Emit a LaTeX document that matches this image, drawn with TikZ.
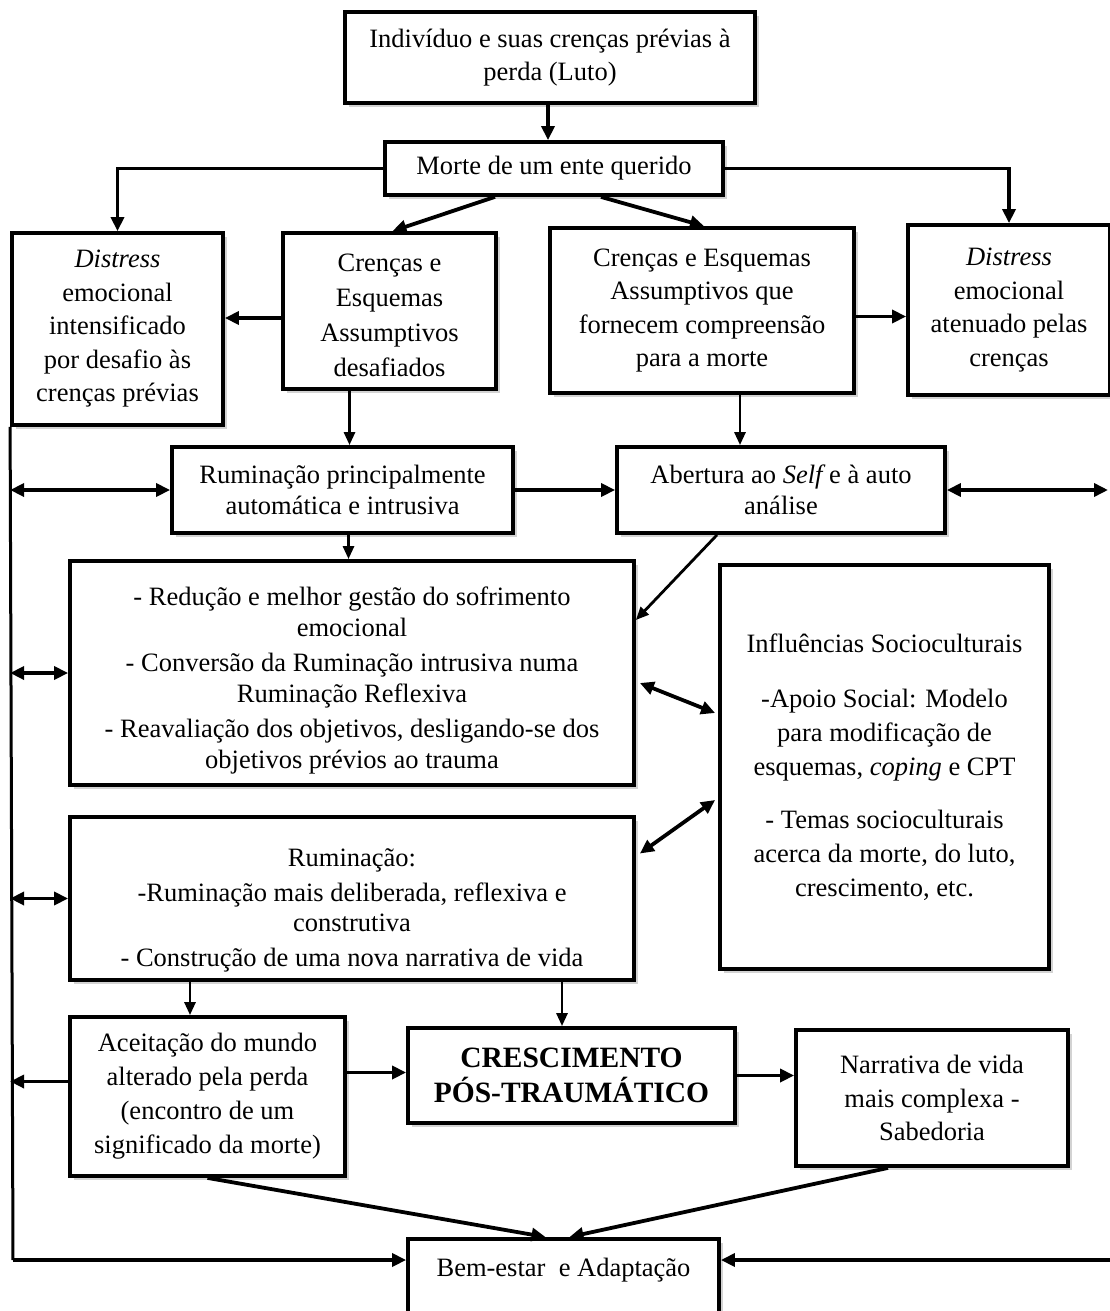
\documentclass[tikz,border=0pt]{standalone}
\usepackage{fontspec}
\setmainfont{Liberation Serif}
\usetikzlibrary{arrows.meta,shadows,calc}
\begin{document}
\begin{tikzpicture}[x=1pt,y=-1pt,
  box/.style={draw, line width=3.8pt, fill=white, align=center, inner sep=0pt,
    font=\fontsize{26.5}{33.5}\selectfont,
    drop shadow={shadow xshift=4pt, shadow yshift=-4pt, opacity=0.35}},
  f31/.style={font=\fontsize{26.5}{31}\selectfont},
  f30/.style={font=\fontsize{26.5}{30.5}\selectfont},
  f34/.style={font=\fontsize{26.5}{34}\selectfont},
  f35/.style={font=\fontsize{26.5}{35}\selectfont},
  tip/.tip={Triangle[length=14pt,width=13pt]},
  arr/.style={line width=3.8pt, -tip},
  darr/.style={line width=3.8pt, tip-tip},
  tarr/.style={line width=2.8pt, -{Triangle[length=13pt,width=11pt]}},
  tline/.style={line width=3pt},
]
\useasboundingbox (0,0) rectangle (1109,1311);

% ---------- boxes ----------
\node[box, minimum width=410pt, minimum height=91pt] (b1) at (550,57.5)
  {Indivíduo e suas crenças prévias à\\perda (Luto)};
\node[box, minimum width=338pt, minimum height=53pt] (morte) at (554,168.5)
  {Morte de um ente querido};
\node[box, minimum width=211pt, minimum height=192pt] (dl) at (117.5,329)
  {\textit{Distress}\\emocional\\intensificado\\por desafio às\\crenças prévias};
\node[box, f35, minimum width=213pt, minimum height=156pt] (cd) at (389.5,311)
  {\rule{0pt}{26pt}Crenças e\\Esquemas\\Assumptivos\\desafiados};
\node[box, minimum width=304pt, minimum height=165pt] (cf) at (702,310.5)
  {Crenças e Esquemas\\Assumptivos que\\fornecem compreensão\\para a morte};
\node[box, minimum width=202pt, minimum height=170pt] (dr) at (1009,310)
  {\textit{Distress}\\emocional\\atenuado pelas\\crenças};
\node[box, f31, minimum width=341pt, minimum height=86pt] (rum) at (342.5,490)
  {Ruminação principalmente\\automática e intrusiva};
\node[box, f31, minimum width=328pt, minimum height=86pt] (ab) at (781,490)
  {Abertura ao {\itshape Self} e à auto\\análise};
\node[box, f31, minimum width=564pt, minimum height=224pt] (red) at (352,673)
  {\rule{0pt}{33pt}- Redução e melhor gestão do sofrimento\\emocional\\[4pt]- Conversão da Ruminação intrusiva numa\\Ruminação Reflexiva\\[4pt]- Reavaliação dos objetivos, desligando-se dos\\objetivos prévios ao trauma};
\node[box, f34, minimum width=329pt, minimum height=404pt] (inf) at (884.5,767)
  {Influências Socioculturais\\[21pt]-Apoio Social: Modelo\\para modificação de\\esquemas, \textit{coping} e CPT\\[19pt]- Temas socioculturais\\acerca da morte, do luto,\\crescimento, etc.};
\node[box, f30, minimum width=564pt, minimum height=163pt] (rum2) at (352,898.5)
  {\rule{0pt}{42pt}Ruminação:\\[4pt]-Ruminação mais deliberada, reflexiva e\\construtiva\\[4pt]- Construção de uma nova narrativa de vida};
\node[box, f34, minimum width=275pt, minimum height=159pt] (ac) at (207.5,1096.5)
  {Aceitação do mundo\\alterado pela perda\\(encontro de um\\significado da morte)};
\node[box, font=\bfseries\fontsize{29.5}{35}\selectfont, minimum width=327pt, minimum height=95pt] (cr) at (571.5,1075.5)
  {CRESCIMENTO\\PÓS-TRAUMÁTICO};
\node[box, minimum width=272pt, minimum height=136pt] (nar) at (932,1098)
  {Narrativa de vida\\mais complexa -\\Sabedoria};
\node[box, anchor=north, minimum width=311pt, text height=38pt, text depth=50pt] (bem) at (563.5,1237)
  {Bem-estar\ \ e Adaptação};

% ---------- helper coordinates ----------
\coordinate (L) at (dl.south west);
\coordinate (Lb) at (13,1260);
\coordinate (Rm) at (1108,488);
\coordinate (Rb) at (1112,1260);
\coordinate (b1s) at ($(b1.south)+(-2,0)$);
\coordinate (mdl) at ($(morte.south)+(-59,0)$);
\coordinate (cdt) at ($(cd.north)+(3,0)$);
\coordinate (mdr) at ($(morte.south)+(47,0)$);
\coordinate (cft) at ($(cf.north)+(2,0)$);
\coordinate (cdw) at ($(cd.west)+(0,7)$);
\coordinate (cfe) at ($(cf.east)+(0,6)$);
\coordinate (cds) at ($(cd.south)+(-40,0)$);
\coordinate (cfs) at ($(cf.south)+(38,0)$);
\coordinate (rums) at ($(rum.south)+(6,0)$);
\coordinate (abs) at ($(ab.south)+(-64,0)$);
\coordinate (rede1) at ($(red.east)+(0,-53)$);
\coordinate (rede2) at ($(red.east)+(4,10)$);
\coordinate (infw1) at ($(inf.west)+(-3,-54)$);
\coordinate (rum2e) at ($(rum2.east)+(4,-45)$);
\coordinate (infw2) at ($(inf.west)+(-3,33)$);
\coordinate (r2a) at ($(rum2.south)+(-162,0)$);
\coordinate (r2b) at ($(rum2.south)+(210,0)$);
\coordinate (ace) at ($(ac.east)+(0,-24)$);
\coordinate (acw) at ($(ac.west)+(0,-15)$);
\coordinate (bema) at ($(bem.north)+(-18,0)$);
\coordinate (bemb) at ($(bem.north)+(6,0)$);
\coordinate (nars) at ($(nar.south)+(-44,0)$);

% ---------- connectors ----------
\draw[arr] (b1s) -- (b1s |- morte.north);
\draw[arr] (morte.west) -| (dl.north);
\draw[arr] (morte.east) -| (dr.north);
\draw[arr] (mdl) -- (cdt);
\draw[arr] (mdr) -- (cft);
\draw[arr] (cdw) -- (cdw -| dl.east);
\draw[arr] (cfe) -- (cfe -| dr.west);
\draw[tarr] (cds) -- (cds |- rum.north);
\draw[tarr] (cfs) -- (cfs |- ab.north);
\draw[tline] (L) -- (Lb);
\draw[darr] (L |- rum.west) -- (rum.west);
\draw[arr] (rum.east) -- (ab.west);
\draw[darr] (ab.east) -- (ab.east -| Rm);
\draw[tarr] (rums) -- (rums |- red.north);
\draw[tarr] (abs) -- (rede1);
\draw[darr] (L |- red.west) -- (red.west);
\draw[darr] (rede2) -- (infw1);
\draw[darr] (rum2e) -- (infw2);
\draw[darr] (L |- rum2.west) -- (rum2.west);
\draw[tarr] (r2a) -- (r2a |- ac.north);
\draw[tarr] (r2b) -- (r2b |- cr.north);
\draw[arr] (ace) -- (ace -| cr.west);
\draw[arr] (cr.east) -- (cr.east -| nar.west);
\draw[arr] (acw) -- (acw -| L);
\draw[arr] (ac.south) -- (bema);
\draw[arr] (nars) -- (bemb);
\draw[arr] (Lb) -- (Lb -| bem.west);
\draw[arr] (Rb) -- (Rb -| bem.east);
\end{tikzpicture}
\end{document}
